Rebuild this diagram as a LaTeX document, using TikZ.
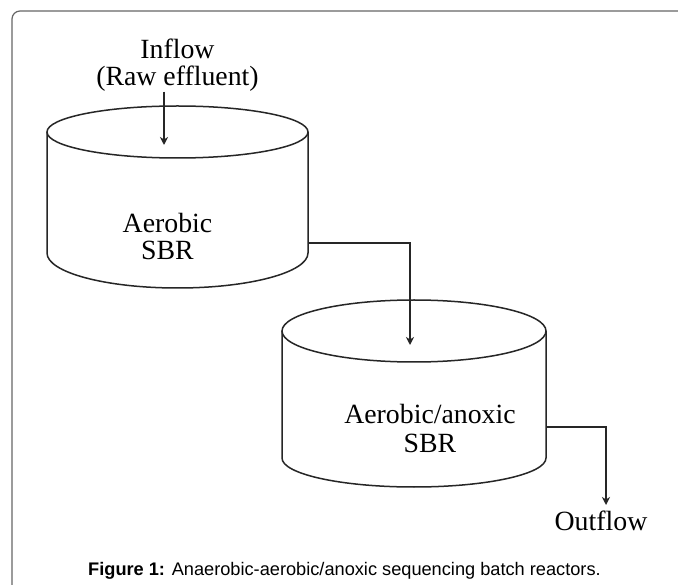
\documentclass[tikz,border=0pt]{standalone}
\usepackage{fontspec}
\setmainfont{Liberation Serif}
\newfontfamily\capfont{Liberation Sans}
\usetikzlibrary{arrows.meta}
\begin{document}
\begin{tikzpicture}[x=1pt,y=-1pt,
  cyl/.style={draw=black!85, line width=1.5pt},
  flow/.style={draw=black!85, line width=1.4pt, -{Stealth[length=8pt,width=8pt,inset=2.5pt]}},
  lbl/.style={font=\fontsize{27.8}{27.5}\selectfont, align=center, inner sep=0pt},
  frame/.style={draw=black!60, line width=1.2pt, rounded corners=8pt}]
\useasboundingbox (0,0) rectangle (678,585);
\fill[white] (0,0) rectangle (678,585);
% frame
\draw[frame] (678,11) -- (12,11) -- (12,585);
% cylinder 1
\draw[cyl] (177.5,132) ellipse [x radius=130.5pt, y radius=26pt];
\draw[cyl] (47,132) -- (47,253) arc[start angle=180, end angle=360, x radius=130.5pt, y radius=35pt] -- (308,132);
% cylinder 2
\draw[cyl] (414,331) ellipse [x radius=132pt, y radius=31pt];
\draw[cyl] (282,331) -- (282,458) arc[start angle=180, end angle=360, x radius=132pt, y radius=29pt] -- (546,331);
% labels
\node[lbl] (inflow) at (177.5,65) {Inflow\\(Raw effluent)};
\node[lbl] (sbr1) at (167.5,236.5) {Aerobic\\SBR};
\node[lbl, font=\fontsize{27.8}{29}\selectfont] (sbr2) at (430,428) {Aerobic/anoxic\\SBR};
\node[lbl, anchor=base] (outflow) at (601,530) {Outflow};
\node[anchor=base west, inner sep=0pt, font=\capfont\fontsize{18.2}{20}\selectfont] (caption) at (88,575)
  {\textbf{Figure 1:} Anaerobic-aerobic/anoxic sequencing batch reactors.};
% connection points
\coordinate (in1) at (164,145);
\coordinate (c1out) at (308,243);
\coordinate (c2in) at (410,345);
\coordinate (c2out) at (546,427);
\coordinate (o1) at (606,505);
% connectors
\draw[flow] (inflow.south -| in1) -- (in1);
\draw[flow] (c1out) -| (c2in);
\draw[flow] (c2out) -| (o1);
\end{tikzpicture}
\end{document}
